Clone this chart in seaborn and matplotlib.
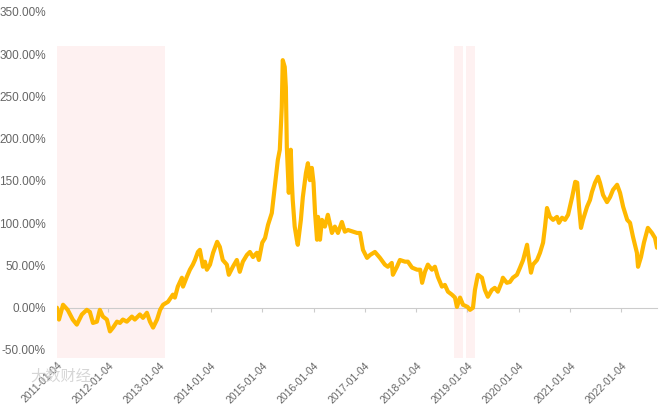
import matplotlib
matplotlib.use("Agg")
import matplotlib.pyplot as plt
import matplotlib.dates as mdates
from matplotlib.ticker import FuncFormatter
import seaborn as sns
import pandas as pd

dates = [
    "2011-01-04", "2011-01-18", "2011-02-16", "2011-03-21", "2011-04-26", "2011-05-25", "2011-06-30",
    "2011-08-04", "2011-08-26", "2011-09-17", "2011-10-15", "2011-11-05", "2011-11-27", "2011-12-25",
    "2012-01-16", "2012-02-07", "2012-03-06", "2012-03-27", "2012-04-17", "2012-05-15", "2012-06-20",
    "2012-07-11", "2012-08-16", "2012-09-07", "2012-10-05", "2012-10-27", "2012-11-18", "2012-12-16",
    "2013-01-07", "2013-01-28", "2013-03-04", "2013-04-08", "2013-04-22", "2013-05-13", "2013-06-11",
    "2013-06-19", "2013-07-16", "2013-08-07", "2013-08-28", "2013-09-12", "2013-10-03", "2013-10-17",
    "2013-11-08", "2013-11-22", "2013-12-06", "2013-12-28", "2014-01-19", "2014-02-17", "2014-03-08",
    "2014-03-29", "2014-04-27", "2014-05-11", "2014-06-09", "2014-07-07", "2014-07-28", "2014-08-19",
    "2014-09-17", "2014-10-08", "2014-10-30", "2014-11-27", "2014-12-11", "2015-01-04", "2015-01-24",
    "2015-02-14", "2015-03-13", "2015-04-03", "2015-04-25", "2015-05-09", "2015-05-23", "2015-05-30",
    "2015-06-13", "2015-06-21", "2015-06-28", "2015-07-12", "2015-07-26", "2015-08-02", "2015-08-09",
    "2015-08-23", "2015-09-07", "2015-09-14", "2015-10-06", "2015-10-20", "2015-11-11", "2015-11-25",
    "2015-12-09", "2015-12-23", "2016-01-04", "2016-01-15", "2016-01-29", "2016-02-05", "2016-02-19",
    "2016-03-04", "2016-03-25", "2016-04-15", "2016-05-14", "2016-06-04", "2016-06-26", "2016-07-24",
    "2016-08-14", "2016-09-05", "2016-10-11", "2016-11-09", "2016-11-30", "2016-12-21", "2017-01-19",
    "2017-02-10", "2017-03-16", "2017-04-21", "2017-05-26", "2017-06-16", "2017-07-14", "2017-07-22",
    "2017-08-20", "2017-09-10", "2017-10-16", "2017-11-06", "2017-12-05", "2018-01-10", "2018-02-01",
    "2018-02-15", "2018-03-07", "2018-03-28", "2018-04-26", "2018-05-17", "2018-06-07", "2018-07-06",
    "2018-07-27", "2018-08-18", "2018-09-15", "2018-10-07", "2018-10-21", "2018-11-12", "2018-12-03",
    "2019-01-04", "2019-01-22", "2019-02-12", "2019-02-26", "2019-03-19", "2019-04-17", "2019-05-08",
    "2019-05-29", "2019-06-26", "2019-07-17", "2019-08-08", "2019-09-05", "2019-09-13", "2019-10-11",
    "2019-11-02", "2019-11-23", "2019-12-22", "2020-01-13", "2020-02-04", "2020-03-03", "2020-03-10",
    "2020-03-31", "2020-04-14", "2020-05-13", "2020-06-03", "2020-06-25", "2020-07-09", "2020-07-23",
    "2020-08-13", "2020-09-04", "2020-10-02", "2020-10-16", "2020-11-07", "2020-11-28", "2020-12-20",
    "2021-01-18", "2021-02-09", "2021-02-23", "2021-03-08", "2021-03-22", "2021-04-05", "2021-05-04",
    "2021-05-25", "2021-06-08", "2021-06-30", "2021-07-21", "2021-08-04", "2021-08-26", "2021-09-23",
    "2021-10-15", "2021-11-05", "2021-12-04", "2021-12-25", "2022-01-16", "2022-02-14", "2022-03-06",
    "2022-03-27", "2022-04-24", "2022-05-02", "2022-05-23", "2022-06-13", "2022-07-11", "2022-08-09",
    "2022-08-31", "2022-09-14",
]

values = [
    0, -14, 3.5, -2.5, -14, -20, -8,
    -2.5, -5, -18, -16.5, -2.5, -10.5, -14,
    -28, -23.5, -16.5, -18, -14, -16.5, -10.5,
    -14, -8, -12, -6, -16.5, -23.5, -14,
    -2.5, 3.5, 7, 15.5, 12, 25, 35.5,
    25, 36.5, 45, 51, 56.5, 66, 68.5,
    48.5, 54.5, 45, 51, 65, 78, 72,
    56.5, 51, 39, 48.5, 56.5, 42.5, 54.5,
    62.5, 66, 60, 65, 56.5, 77, 82.5,
    98, 112, 143, 175, 187, 237.5, 293,
    285, 261, 190, 136, 187, 151, 127.5,
    96, 80.5, 74.5, 104, 131, 159.5, 171,
    151, 165.5, 148, 112, 80.5, 107.5, 80.5,
    104, 96, 110, 88.5, 96, 88.5, 101.5,
    90, 92, 90, 88.5, 88.5, 68.5, 59,
    62.5, 66, 59, 51, 48.5, 53, 39,
    48.5, 56.5, 54.5, 54.5, 47.5, 45, 45,
    29.5, 42.5, 51, 45, 48.5, 36.5, 25,
    27, 19, 15.5, 12, 1, 12, 3.5,
    1, -2.5, 0, 21, 39, 35.5, 21,
    13, 21, 23.5, 19, 30.5, 35.5, 29.5,
    30.5, 35.5, 39, 47.5, 56.5, 74.5, 65,
    41.5, 51, 56.5, 65, 77, 96, 118,
    107.5, 104, 107.5, 100.5, 106.5, 104, 110,
    131, 149, 148, 119.5, 94.5, 104, 119.5,
    127.5, 137, 148, 155, 148, 133.5, 125,
    131, 139.5, 145.5, 136, 119.5, 104, 100.5,
    84, 65, 48.5, 60, 77, 94.5, 88.5,
    82.5, 71,
]

shade_starts = ["2011-01-04", "2018-09-30", "2018-12-24"]
shade_ends = ["2013-02-12", "2018-12-03", "2019-02-26"]
tick_dates = ["2011-01-04", "2012-01-04", "2013-01-04", "2014-01-04", "2015-01-04", "2016-01-04",
              "2017-01-04", "2018-01-04", "2019-01-04", "2020-01-04", "2021-01-04", "2022-01-04"]
y_ticks = [-50, 0, 50, 100, 150, 200, 250, 300, 350]

df = pd.DataFrame({"date": pd.to_datetime(dates), "value": values})

sns.set_theme(style="white")
plt.rcParams["font.family"] = ["Liberation Sans", "DejaVu Sans", "Noto Sans CJK SC"]

fig = plt.figure(figsize=(6.7, 4.13), dpi=100)
ax = fig.add_axes([57 / 670, 55 / 413, 600 / 670, 358 / 413])

y_lo, y_hi = -59.5, 364.2
shade_top = 310
for s, e in zip(shade_starts, shade_ends):
    ax.fill_between(pd.to_datetime([s, e]), y_lo, shade_top, color="#fef1f1", lw=0, zorder=0)

sns.lineplot(data=df, x="date", y="value", ax=ax, color="#FFB800", linewidth=3.0, zorder=3)

ax.set_xlim(pd.Timestamp("2011-01-04"), pd.Timestamp("2022-09-14"))
ax.set_ylim(y_lo, y_hi)
ax.set_xlabel("")
ax.set_ylabel("")

for sp in ["top", "right", "left"]:
    ax.spines[sp].set_visible(False)
ax.spines["bottom"].set_position(("data", 0))
ax.spines["bottom"].set_color("#cccccc")
ax.spines["bottom"].set_linewidth(0.8)
ax.spines["bottom"].set_zorder(2)

ax.set_xticks(pd.to_datetime(tick_dates))
ax.xaxis.set_major_formatter(mdates.DateFormatter("%Y-%m-%d"))
ax.tick_params(axis="x", direction="out", length=3, width=0.8, color="#cccccc",
               labelsize=7.5, labelcolor="#666666", pad=35, bottom=True)
for lab in ax.get_xticklabels():
    lab.set_rotation(45)
    lab.set_ha("right")
    lab.set_va("top")
    lab.set_rotation_mode("anchor")

ax.set_yticks(y_ticks)
ax.yaxis.set_major_formatter(FuncFormatter(lambda v, p: f"{v:.2f}%"))
ax.tick_params(axis="y", length=0, labelsize=8.5, labelcolor="#666666", pad=8, left=False)
ax.grid(False)

fig.text(0.045, 0.09, "大数财经", fontsize=11, color="#cccccc", alpha=0.8,
         family=["Noto Sans CJK SC"], ha="left", va="center")

fig.savefig("out.png", dpi=100)
